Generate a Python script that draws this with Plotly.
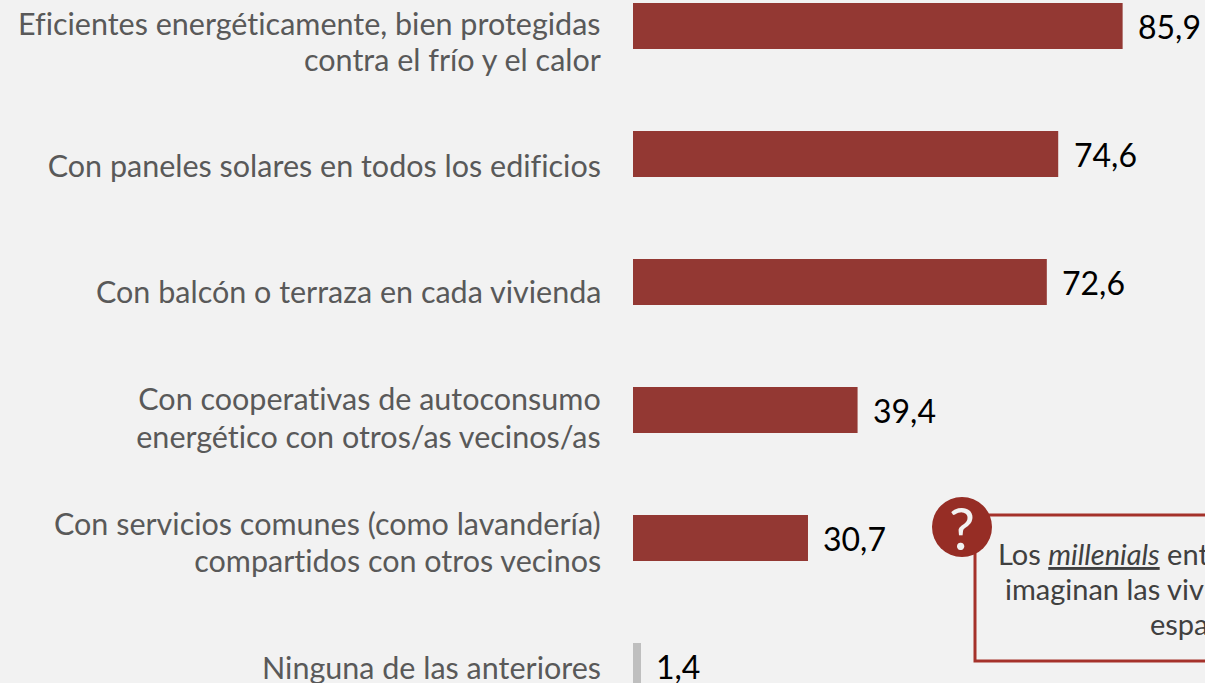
import plotly.graph_objects as go

categories = [
    "Eficientes energéticamente, bien protegidas<br>contra el frío y el calor",
    "Con paneles solares en todos los edificios",
    "Con balcón o terraza en cada vivienda",
    "Con cooperativas de autoconsumo<br>energético con otros/as vecinos/as",
    "Con servicios comunes (como lavandería)<br>compartidos con otros vecinos",
    "Ninguna de las anteriores",
]
values = [85.9, 74.6, 72.6, 39.4, 30.7, 1.4]
value_labels = ["85,9", "74,6", "72,6", "39,4", "30,7", "1,4"]
bar_colors = ["#933833"] * 5 + ["#bfbfbf"]
label_line_px = [[23, 59], [165], [291], [398, 436], [523, 560], [667]]
callout_lines = [
    ("Los <i><u>millenials</u></i> ent", 996, 553),
    ("imaginan las viv", 1003, 588),
    ("espa", 1148, 623),
]

W, H = 1205, 683
PLOT_LEFT = 633
PX_PER_UNIT = 5.7
STEP = 128
FIRST_CENTER = 26
FONT = "Lato"
px = lambda v: v / W
py = lambda v: 1 - v / H

fig = go.Figure(go.Bar(
    x=values, y=categories, orientation="h",
    marker=dict(color=bar_colors, line=dict(width=0)),
    width=46 / STEP, hoverinfo="skip",
))

for cat, val, lab, line_ys in zip(categories, values, value_labels, label_line_px):
    for line, ly in zip(cat.split("<br>"), line_ys):
        fig.add_annotation(x=px(603), xref="paper", y=py(ly), yref="paper", text=line,
                           showarrow=False, xanchor="right", yanchor="middle",
                           font=dict(family=FONT, size=30.5, color="#595959"))
    fig.add_annotation(x=val, xref="x", xshift=13.5, y=cat, yref="y", text=lab,
                       showarrow=False, xanchor="left", yanchor="middle",
                       font=dict(family=FONT, size=32, color="#000000"))

fig.add_shape(type="rect", xref="paper", yref="paper",
              x0=px(975), x1=px(1300), y0=py(515), y1=py(661),
              line=dict(color="#a5322b", width=3), fillcolor="rgba(0,0,0,0)")
fig.add_shape(type="circle", xref="paper", yref="paper",
              x0=px(932), x1=px(992), y0=py(497), y1=py(557),
              line=dict(width=0), fillcolor="#962d25")
fig.add_annotation(x=px(962), y=py(527), xref="paper", yref="paper", text="?",
                   showarrow=False, xanchor="center", yanchor="middle",
                   font=dict(family=FONT, size=58, weight=400, color="#f2f2f2"))
for text, lx, ly in callout_lines:
    fig.add_annotation(x=px(lx), y=py(ly), xref="paper", yref="paper", text=text,
                       showarrow=False, xanchor="left", yanchor="middle",
                       font=dict(family=FONT, size=29, color="#404040"))

fig.update_layout(
    width=W, height=H, margin=dict(l=0, r=0, t=0, b=0),
    paper_bgcolor="#f2f2f2", plot_bgcolor="#f2f2f2",
    showlegend=False, font=dict(family=FONT),
    xaxis=dict(domain=[PLOT_LEFT / W, 1], range=[0, (W - PLOT_LEFT) / PX_PER_UNIT],
               visible=False, fixedrange=True),
    yaxis=dict(type="category", categoryorder="array", categoryarray=categories,
               range=[(H - FIRST_CENTER) / STEP, -FIRST_CENTER / STEP],
               showticklabels=False, showgrid=False, zeroline=False, fixedrange=True),
)

fig.write_html("out.html", config={"displayModeBar": False},
               post_script="document.body.style.margin='0';document.body.style.overflow='hidden';"
                           "var s=document.createElement('style');"
                           "s.textContent='text,tspan{font-variant-ligatures:none !important;font-feature-settings:\"liga\" 0,\"dlig\" 0 !important}';"
                           "document.head.appendChild(s);")
